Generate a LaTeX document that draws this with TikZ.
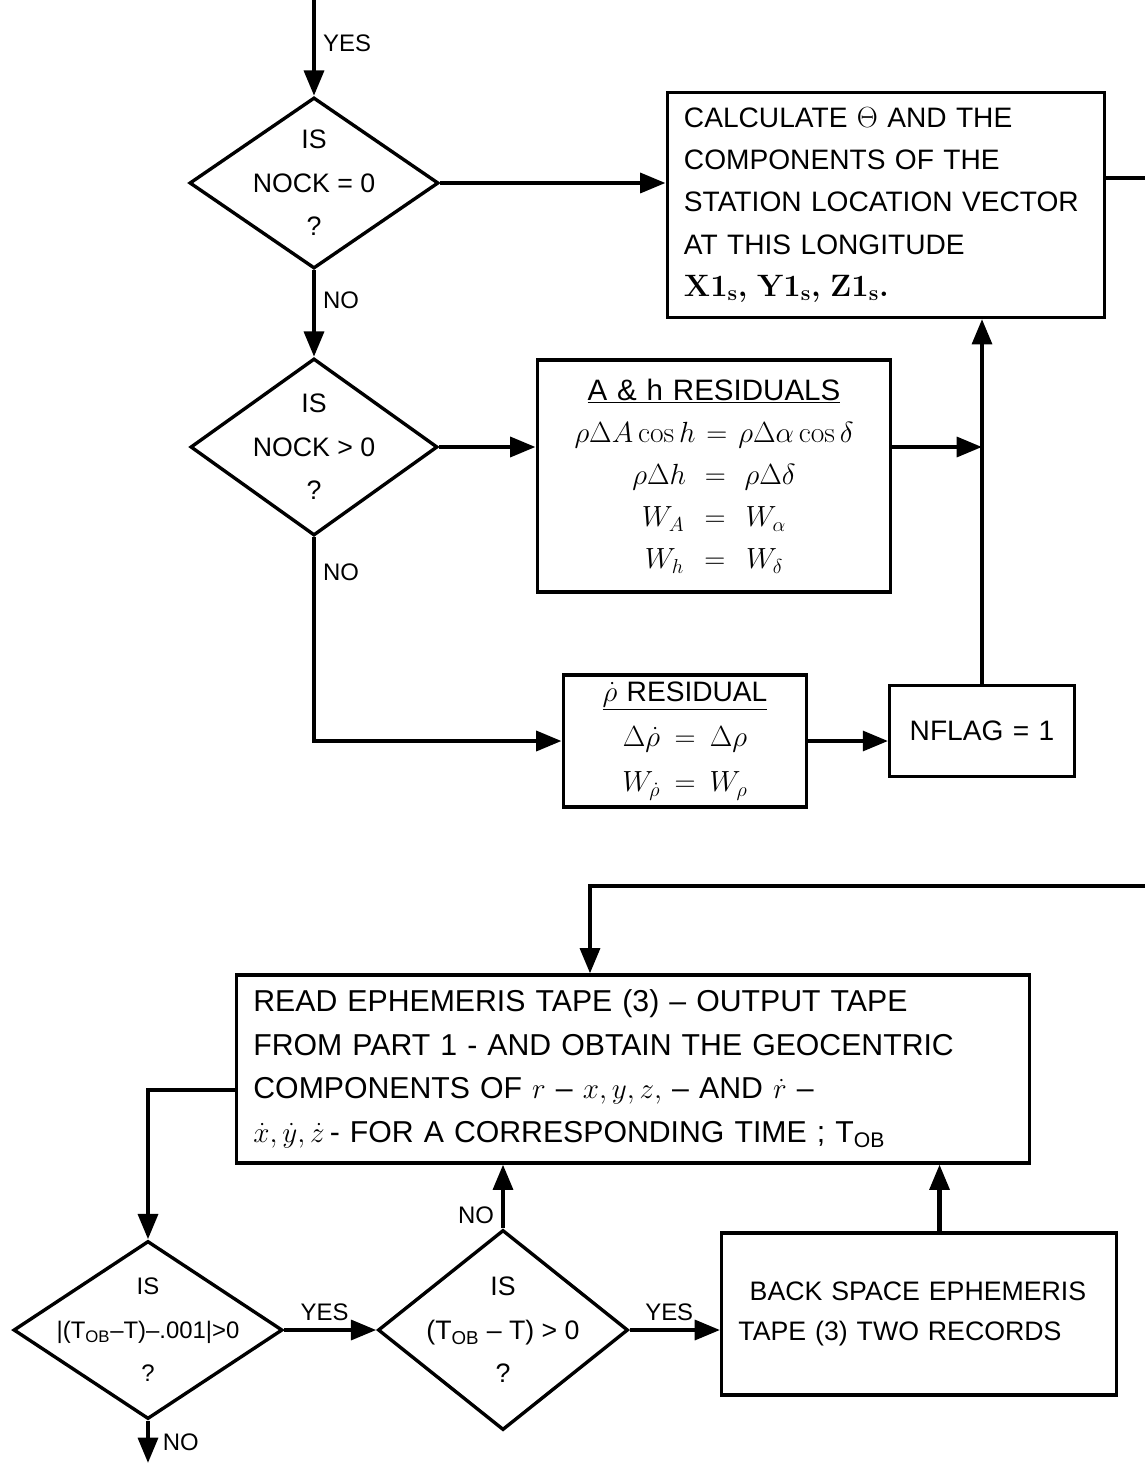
\documentclass[tikz,border=0pt]{standalone}
\usepackage{fontspec}
\setsansfont{Liberation Sans}
\usetikzlibrary{shapes.geometric,arrows.meta}

\tikzset{
    procbox/.style={draw, rectangle, line width=2.2pt, inner xsep=12pt, inner ysep=0pt,
        font=\sffamily\fontsize{20}{30}\selectfont},
    decision/.style={draw, diamond, line width=2.4pt, inner sep=0pt},
    ask/.style={align=center, font=\sffamily\fontsize{19}{31}\selectfont},
    flow/.style={line width=3pt, -{Triangle[length=18pt,width=14pt]}},
    wire/.style={line width=3pt},
    tag/.style={font=\sffamily\fontsize{17}{20}\selectfont, inner sep=5pt}
}

\begin{document}
\begin{tikzpicture}[x=0.025cm, y=-0.025cm]
        \useasboundingbox (0,0) rectangle (1145,1463);

        % upper part
        \coordinate (from) at (314,0);
        \coordinate (out) at (1145,178);

        \node[decision, minimum width=6.225cm, minimum height=4.275cm,
            label={[ask]center:{IS\\NOCK = 0\\?}}] (nockzero) at (314,183) {};
        \node[decision, minimum width=6.175cm, minimum height=4.425cm,
            label={[ask]center:{IS\\NOCK > 0\\?}}] (nockpos) at (314,447) {};

        \node[procbox, text width=10.1cm, minimum height=5.625cm, align=left] (station) at (886,205)
            {CALCULATE $\Theta$ AND THE\\COMPONENTS OF THE\\STATION LOCATION VECTOR\\AT THIS LONGITUDE\\
             {\rmfamily\bfseries\fontsize{22}{30}\selectfont X1\textsubscript{s}, Y1\textsubscript{s}, Z1\textsubscript{s}.}};
        \node[procbox, text width=8cm, minimum height=5.8cm, align=center,
            font=\sffamily\fontsize{21}{30}\selectfont] (angres) at (714,476)
            {\underline{A \& h RESIDUALS}\\$\rho\Delta A\cos h = \rho\Delta\alpha\cos\delta$\\
             $\rho\Delta h = \rho\Delta\delta$\\$W_A = W_\alpha$\\$W_h = W_\delta$};
        \node[procbox, text width=5.25cm, minimum height=3.3cm, align=center,
            font=\sffamily\fontsize{20}{32}\selectfont] (rateres) at (685,741)
            {\underline{$\dot\rho$ RESIDUAL}\\$\Delta\dot\rho = \Delta\rho$\\$W_{\dot\rho} = W_\rho$};
        \node[procbox, text width=3.775cm, minimum height=2.275cm, align=center] (nflag) at (982,731)
            {NFLAG = 1};

        \draw[flow] (from) -- node[tag, right, pos=.45] {YES} (nockzero.north);
        \draw[flow] (nockzero.east) -- (nockzero.east -| station.west);
        \draw[wire] (out -| station.east) -- (out);
        \draw[flow] (nockzero.south) -- node[tag, right, pos=.35] {NO} (nockpos.north);
        \draw[flow] (nockpos.east) -- (nockpos.east -| angres.west);
        \draw[flow] (nockpos.east -| angres.east) -- (nockpos.east -| nflag.north);
        \draw[flow] (nockpos.south) -- node[tag, right, pos=.17] {NO} (nockpos.south |- rateres.west) -- (rateres.west);
        \draw[flow] (rateres.east) -- (rateres.east -| nflag.west);
        \draw[flow] (nflag.north) -- (nflag.north |- station.south);

        % lower part
        \coordinate (back) at (1145,886);
        \coordinate (into) at (590,886);
        \coordinate (to) at (148,1463);

        \node[procbox, text width=18.975cm, minimum height=4.7cm, align=left,
            font=\sffamily\fontsize{21.5}{31}\selectfont] (readtape) at (633,1069)
            {READ EPHEMERIS TAPE (3) -- OUTPUT TAPE\\FROM PART 1 - AND OBTAIN THE GEOCENTRIC\\
             COMPONENTS OF $r$ -- $x, y, z,$ -- AND $\dot r$ --\\
             $\dot x, \dot y, \dot z$\,- FOR A CORRESPONDING TIME ; T\textsubscript{OB}};
        \node[decision, minimum width=6.725cm, minimum height=4.45cm,
            label={[ask, font=\sffamily\fontsize{17}{31}\selectfont]center:{IS\\\textbar(T\textsubscript{OB}--T)--.001\textbar{}>0\\?}}] (absdiff) at (148,1330) {};
        \node[decision, minimum width=6.25cm, minimum height=5cm,
            label={[ask]center:{IS\\(T\textsubscript{OB} -- T) > 0\\?}}] (sign) at (503,1330) {};
        \node[procbox, text width=9.025cm, minimum height=4.05cm, align=left,
            font=\sffamily\fontsize{19}{28}\selectfont] (backsp) at (919,1314)
            {\hspace*{8pt}BACK SPACE EPHEMERIS\\TAPE (3) TWO RECORDS};

        \draw[flow] ([yshift=-15pt]readtape.west) -| (absdiff.north);
        \draw[flow] (back) -- (into) -- (into |- readtape.north);
        \draw[flow] (absdiff.south) -- node[tag, right, xshift=4pt] {NO} (to);
        \draw[flow] (absdiff.east) -- node[tag, above, xshift=-4pt] {YES} (sign.west);
        \draw[flow] (sign.north) -- node[tag, left, pos=.2] {NO} (sign.north |- readtape.south);
        \draw[flow] (sign.east) -- node[tag, above, xshift=-4pt] {YES} (sign.east -| backsp.west);
        \draw[flow] ([xshift=14.6pt]backsp.north) -- ([xshift=14.6pt]backsp.north |- readtape.south);
\end{tikzpicture}
\end{document}
